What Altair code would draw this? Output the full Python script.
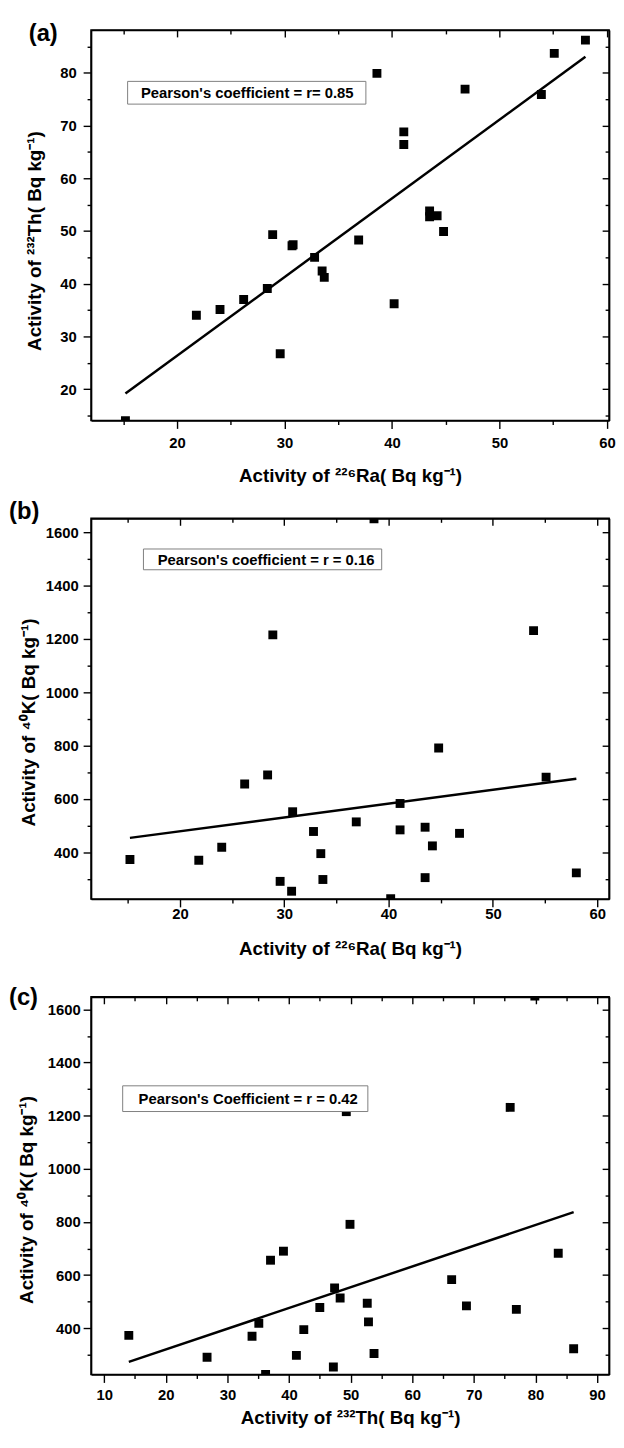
import altair as alt
import pandas as pd

# ---- data (one row per sample) ----
ra = [58.0, 55.1, 38.6, 46.8, 53.9, 41.1, 41.1, 43.5, 43.5, 44.2, 44.8, 28.9, 30.8,
      30.7, 36.9, 32.8, 33.5, 33.7, 28.4, 26.2, 24.0, 21.8, 40.2, 29.6, 15.2]
th = [86.2, 83.7, 79.9, 76.9, 75.9, 68.8, 66.4, 53.8, 52.7, 52.9, 49.9, 49.3, 47.4,
      47.2, 48.3, 45.0, 42.4, 41.2, 39.1, 37.0, 35.1, 34.0, 36.2, 26.7, 14.0]
k = [323, 682, 1650, 471, 1231, 484, 583, 305, 494, 424, 791, 1215, 552,
     254, 514, 478, 395, 298, 690, 656, 419, 370, 226, 291, 373]

ra_ticks = [15, 20, 25, 30, 35, 40, 45, 50, 55, 60]
th_ticks = [10, 15, 20, 25, 30, 35, 40, 45, 50, 55, 60, 65, 70, 75, 80, 85, 90]
k_ticks = [300, 400, 500, 600, 700, 800, 900, 1000, 1100, 1200, 1300, 1400, 1500, 1600]

letters = ["(a)", "(b)", "(c)"]
notes = ["Pearson's coefficient = r= 0.85",
         "Pearson's coefficient = r = 0.16",
         "Pearson's Coefficient = r = 0.42"]
ra_title = "Activity of ²²⁶Ra( Bq kg⁻¹)"
th_title = "Activity of ²³²Th( Bq kg⁻¹)"
k_title = "Activity of ⁴⁰K( Bq kg⁻¹)"

df = pd.DataFrame({"Ra": ra, "Th": th, "K": k})
FONT = "Liberation Sans, Arial, Helvetica, sans-serif"


def panel(xf, yf, xdom, ydom, xvals, yvals, xmaj, ymaj, w, h, xtitle, ytitle,
          letter, lxy, note, box, nxy, xpad, ypad, ytx, yty, xty):
    xs = alt.Scale(domain=xdom, nice=False, zero=False)
    ys = alt.Scale(domain=ydom, nice=False, zero=False)
    xt = [v for v in xvals if xdom[0] <= v <= xdom[1]]
    yt = [v for v in yvals if ydom[0] <= v <= ydom[1]]
    mx = f"datum.value % {xmaj} === 0"
    my = f"datum.value % {ymaj} === 0"

    pts = alt.Chart(df).mark_square(size=81, color="black", opacity=1, clip=True).encode(
        x=alt.X(f"{xf}:Q", scale=xs, axis=alt.Axis(
            orient="bottom", values=xt, format="d", labelFlush=False, labelOverlap=False,
            labelExpr=f"{mx} ? datum.label : ''", tickSize={"expr": f"{mx} ? 8 : 4"},
            labelPadding=xpad, title=xtitle, titleY=xty)),
        y=alt.Y(f"{yf}:Q", scale=ys, axis=alt.Axis(
            orient="left", values=yt, format="d", labelFlush=False, labelOverlap=False,
            labelExpr=f"{my} ? datum.label : ''", tickSize={"expr": f"{my} ? 8 : 4"},
            labelPadding=ypad, title=ytitle, titleX=ytx, titleY=yty)),
    )
    line = alt.Chart(df).transform_regression(xf, yf).mark_line(
        color="black", strokeWidth=2.5).encode(
        x=alt.X(f"{xf}:Q", scale=xs, axis=alt.Axis(
            orient="top", values=xt, labels=False, title=None, minExtent=0, maxExtent=0,
            tickSize={"expr": f"{mx} ? -7 : -4"})),
        y=alt.Y(f"{yf}:Q", scale=ys, axis=alt.Axis(
            orient="right", values=yt, labels=False, title=None, minExtent=0, maxExtent=0,
            tickSize={"expr": f"{my} ? -7 : -4"})),
    )
    ndf = pd.DataFrame({"t": [note]})
    rect = alt.Chart(ndf).mark_rect(fill="white", stroke="#808080", strokeWidth=1).encode(
        x=alt.value(box[0]), x2=alt.value(box[1]), y=alt.value(box[2]), y2=alt.value(box[3]))
    txt = alt.Chart(ndf).mark_text(font=FONT, fontSize=15, fontWeight="bold", color="black",
                                   align="center", baseline="middle").encode(
        text="t:N", x=alt.value(nxy[0]), y=alt.value(nxy[1]))
    ldf = pd.DataFrame({"t": [letter]})
    let = alt.Chart(ldf).mark_text(font=FONT, fontSize=24, fontWeight="bold", color="black",
                                   align="left", baseline="top").encode(
        text="t:N", x=alt.value(lxy[0]), y=alt.value(lxy[1]))
    return alt.layer(pts, line, rect, txt, let).resolve_axis(
        x="independent", y="independent").properties(width=w, height=h)


pa = panel("Ra", "Th", [12.0, 60.2], [14.05, 88.13], ra_ticks, th_ticks, 10, 10, 524, 395,
           ra_title, th_title, letters[0], (-63, -8), notes[0], (37, 278, 52, 75), (158, 64),
           7, 7, -47, 213, 47)
pb = panel("Ra", "K", [11.47, 61.14], [225, 1652], ra_ticks, k_ticks, 10, 200, 524, 385,
           ra_title, k_title, letters[1], (-83, -18), notes[1], (53, 294, 31, 52), (177, 42),
           0, 5, -53, 206, 41)
pc = panel("Th", "K", [7.87, 91.95], [226, 1647], th_ticks, k_ticks, 10, 200, 524, 382,
           th_title, k_title, letters[2], (-83, -11), notes[2], (32, 280, 90, 116), (159, 103),
           5, 3, -55, 205, 35)

chart = alt.vconcat(pa, pb, pc, spacing=99, bounds="flush").properties(
    padding={"left": 0, "top": 5, "right": 0, "bottom": 0}
).configure_view(stroke="black", strokeWidth=1.6).configure_axis(
    grid=False, domainColor="black", domainWidth=1.6, tickColor="black", tickWidth=1.4,
    labelFont=FONT, labelFontSize=15, labelFontWeight="bold", labelColor="black",
    titleFont=FONT, titleFontSize=19, titleFontWeight="bold", titleColor="black"
)

chart.save("out.html", embed_options={"renderer": "svg", "actions": False})
